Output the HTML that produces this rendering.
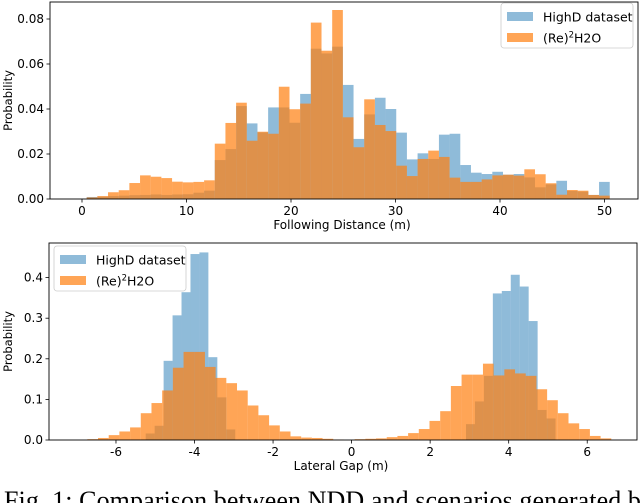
<!DOCTYPE html>
<html><head><meta charset="utf-8"><style>
html,body{margin:0;padding:0;background:#fff;}
body{width:640px;height:503px;overflow:hidden;position:relative;}
svg{position:absolute;left:0;top:0;}
text{font-family:"DejaVu Sans","Liberation Sans",sans-serif;fill:#000;}
</style></head><body>
<svg id="chart" width="640" height="503" viewBox="0 0 640 503">
  <g id="top"></g>
  <g id="bot"></g>
  <text x="4" y="509" textLength="650" style="font-family:'Liberation Serif',serif;font-size:26px">Fig. 1: Comparison between NDD and scenarios generated by</text>
</svg>
<script>
// ---- Top chart data (thousandths of probability) ----
const topBinStart = 0.447;
const topBinWidth = 1.0215;
const topHighD = [0.9,1.0,1.3,1.5,1.7,1.8,2.0,1.8,2.0,2.1,2.8,3.7,17.3,22.2,41.3,33.6,29.6,40.7,40.7,33.9,46.7,66.8,64.7,67.7,50.7,26.7,37.6,45,40,29.5,17.6,20.3,17.8,28.6,29,15.1,11.7,11.1,12.1,10.8,11.1,9.6,5.2,6.5,8.1,3.6,3.3,1.8,7.6];
const topRe2H2O = [0.7,1.3,3,3.9,7.1,10.5,9.9,9.3,7.7,7.4,7.6,8.3,24.6,33.8,42.8,25.9,29.9,29,49.9,39.9,42.4,78.4,65.9,84,36.3,23,44.3,32.9,30.2,14.8,10.2,17.8,21.5,18.7,9.5,7.6,7.6,8.7,10.5,10.8,10.4,13.2,11,7,1.9,4,3.7,1.8,1.5];
const topXTicks = [0,10,20,30,40,50];
const topYTicks = [0,0.02,0.04,0.06,0.08];
const topYLabels = ["0.00","0.02","0.04","0.06","0.08"];

// ---- Bottom chart data (probability) ----
const botOrangeStart = -6.73;
const botOrangeWidth = 0.2723;
const botRe2H2O = [0.002,0.005,0.012,0.021,0.031,0.066,0.091,0.122,0.178,0.217,0.217,0.180,0.153,0.140,0.122,0.085,0.061,0.036,0.021,0.009,0.006,0.005,0.003,0.001,0,0.002,0.003,0.004,0.007,0.010,0.017,0.027,0.047,0.071,0.133,0.161,0.161,0.188,0.159,0.174,0.164,0.158,0.125,0.098,0.066,0.041,0.027,0.010,0.004];
const botBlueWidth = 0.228;
const botBlueLeftStart = -5.243;
const botHighDLeft = [0.016,0.035,0.195,0.307,0.364,0.458,0.462,0.204,0.105,0.026];
const botBlueRightStart = 2.913;
const botHighDRight = [0.039,0.095,0.158,0.361,0.367,0.407,0.378,0.293,0.074,0.053];
const botXTicks = [-6,-4,-2,0,2,4,6];
const botXLabels = ["-6","-4","-2","0","2","4","6"];
const botYTicks = [0,0.1,0.2,0.3,0.4];
const botYLabels = ["0.0","0.1","0.2","0.3","0.4"];

const NS = "http://www.w3.org/2000/svg";
const BLUE = "#1f77b4", ORANGE = "#ff7f0e";
function mk(parent, tag, attrs){const e=document.createElementNS(NS,tag);for(const k in attrs)e.setAttribute(k,attrs[k]);parent.appendChild(e);return e;}

function drawPanel(g, frame, xs, ys, xTicks, xLabels, yTicks, yLabels, xTitle, legendPos){
  mk(g,"rect",{x:frame.l,y:frame.t,width:frame.r-frame.l,height:frame.b-frame.t,fill:"none",stroke:"#000","stroke-width":0.9});
  xTicks.forEach((v,i)=>{
    const x=xs(v);
    const t=mk(g,"line",{x1:x,x2:x,y1:frame.b,y2:frame.b+3.5,stroke:"#000","stroke-width":0.8});
    
    
    const tx=mk(g,"text",{x:x,y:frame.b+16,"text-anchor":"middle","font-size":"12"});
    tx.textContent=xLabels[i];
    
    
  });
  yTicks.forEach((v,i)=>{
    const y=ys(v);
    const t=mk(g,"line",{x1:frame.l-3.5,x2:frame.l,y1:y,y2:y,stroke:"#000","stroke-width":0.8});
    
    
    const tx=mk(g,"text",{x:frame.l-6,y:y+4,"text-anchor":"end","font-size":"12"});
    tx.textContent=yLabels[i];
    
    
  });
  const xt=mk(g,"text",{x:(frame.l+frame.r)/2-2,y:frame.b+30,"text-anchor":"middle","font-size":"12"});
  xt.textContent=xTitle;
  
  
  const cy=(frame.t+frame.b)/2;
  const yt=mk(g,"text",{x:0,y:0,"text-anchor":"middle","font-size":"11.5",transform:`translate(12,${cy}) rotate(-90)`});
  yt.textContent="Probability";
  
  
  const L=mk(g,"g",{});
  
  
  mk(L,"rect",{x:legendPos.x,y:legendPos.y,width:132,height:45,rx:3,fill:"#fff","fill-opacity":0.8,stroke:"#ccc","stroke-width":0.8});
  const items=[["HighD dataset",BLUE,0.5],["(Re)","#ff7f0e",0.7]];
  items.forEach((it,i)=>{
    const ey=legendPos.y+9+i*21;
    const e=mk(L,"g",{});
    
    
    mk(e,"rect",{x:legendPos.x+6,y:ey,width:26,height:9,fill:it[1],"fill-opacity":it[2]});
    const t=mk(e,"text",{x:legendPos.x+42,y:ey+9.5,"font-size":"12.5"});
    if(i===0){t.textContent=it[0];}
    else{
      t.textContent="(Re)";
      const s=mk(t,"tspan",{"font-size":"8.5",dy:"-5"});s.textContent="2";
      const s2=mk(t,"tspan",{dy:"5"});s2.textContent="H2O";
    }
  });
}

function bars(g, start, width, vals, xs, ys, color, op, name){
  vals.forEach((v,i)=>{
    const x0=xs(start+i*width), x1=xs(start+(i+1)*width);
    const y=ys(v), y0=ys(0);
    const r=mk(g,"rect",{x:x0,y:y,width:x1-x0,height:Math.max(0,y0-y),fill:color,"fill-opacity":op});
    
    
  });
}

(function(){
  const g=document.getElementById("top");
  const frame={l:50,r:638,t:2,b:199};
  const xs=v=>82+v*10.45;
  const ys=v=>199-v*2250;
  const yk=v=>ys(v/1000);
  bars(g,topBinStart,topBinWidth,topHighD,xs,yk,BLUE,0.5,"bar-highd");
  bars(g,topBinStart,topBinWidth,topRe2H2O,xs,yk,ORANGE,0.7,"bar-re2h2o");
  drawPanel(g,frame,xs,ys,topXTicks,topXTicks.map(String),topYTicks,topYLabels,"Following Distance (m)",{x:501,y:3});
})();

(function(){
  const g=document.getElementById("bot");
  const frame={l:49,r:637,t:243,b:440};
  const xs=v=>351.6+v*39.27;
  const ys=v=>440-v*406;
  bars(g,botBlueLeftStart,botBlueWidth,botHighDLeft,xs,ys,BLUE,0.5,"bar-highd");
  bars(g,botBlueRightStart,botBlueWidth,botHighDRight,xs,ys,BLUE,0.5,"bar-highd");
  bars(g,botOrangeStart,botOrangeWidth,botRe2H2O,xs,ys,ORANGE,0.7,"bar-re2h2o");
  drawPanel(g,frame,xs,ys,botXTicks,botXLabels,botYTicks,botYLabels,"Lateral Gap (m)",{x:54,y:246});
})();
</script>
</body></html>
